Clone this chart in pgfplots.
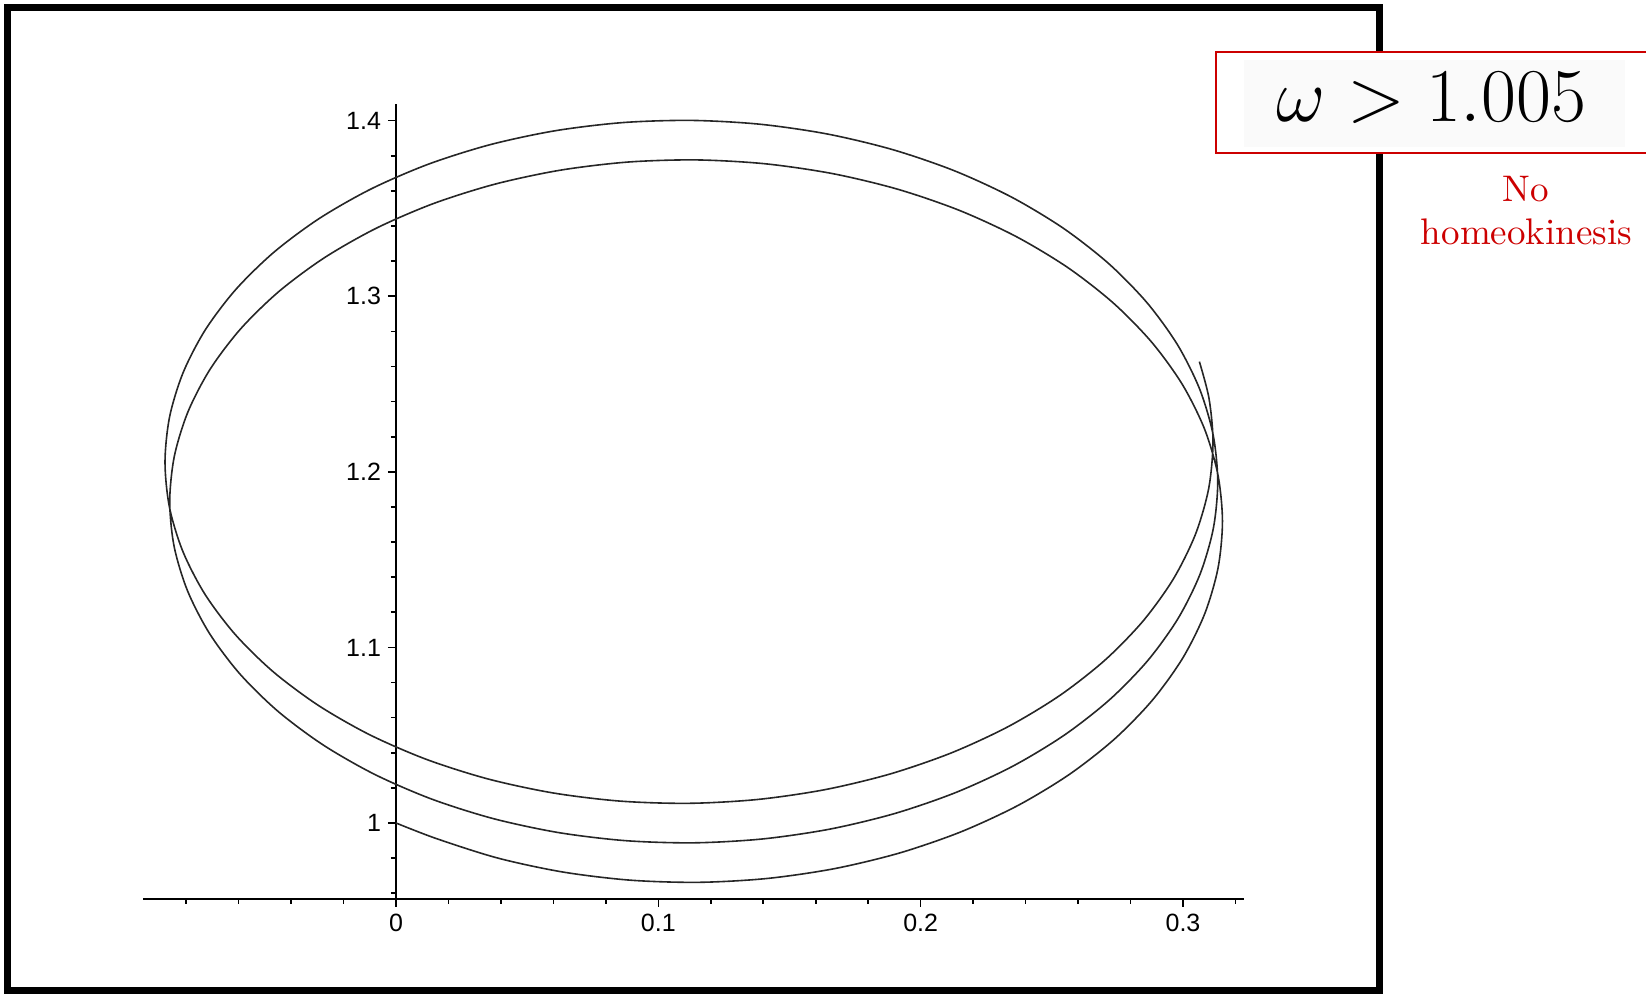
\documentclass[border=0pt]{standalone}
\usepackage{fontspec}
\usepackage{pgfplots}
\pgfplotsset{compat=1.18}
\newfontfamily\tickfont{Liberation Sans}
\newfontfamily\lmten{lmroman10-regular.otf}
\definecolor{boxred}{RGB}{204,0,0}
\begin{document}
\begin{tikzpicture}[x=0.5pt,y=0.5pt]
\path[use as bounding box] (0,0) rectangle (1646,995);
\draw[line width=3.5pt] (7.5,987) rectangle (1379,4);
\begin{axis}[
  at={(71.5pt,48pt)}, anchor=south west,
  scale only axis, width=550.5pt, height=397.5pt,
  xmin=-0.09644, xmax=0.32326, ymin=0.95671, ymax=1.4095,
  axis x line=bottom, axis y line=center,
  axis line style={-, line width=1pt, black},
  xtick={0,0.1,0.2,0.3}, ytick={1,1.1,1.2,1.3,1.4},
  minor xtick={-0.08,-0.06,-0.04,-0.02,0.02,0.04,0.06,0.08,0.12,0.14,0.16,0.18,0.22,0.24,0.26,0.28,0.32},
  minor ytick={0.96,0.98,1.02,1.04,1.06,1.08,1.12,1.14,1.16,1.18,1.22,1.24,1.26,1.28,1.32,1.34,1.36,1.38},
  tick align=outside,
  major tick length=4pt, minor tick length=2.5pt,
  tick style={line width=0.8pt, black},
  every tick label/.append style={font=\tickfont\fontsize{12.5}{14}\selectfont},
  /pgf/number format/assume math mode=true,
  /pgf/number format/fixed, /pgf/number format/precision=2,
  clip=false,
]
\addplot[smooth, tension=0.5, line width=0.8pt, black!85] table {
x y
0.00000 1.00000
0.01535 0.99114
0.03880 0.98002
0.06357 0.97208
0.08921 0.96744
0.11530 0.96620
0.14139 0.96838
0.16704 0.97396
0.19180 0.98284
0.21525 0.99489
0.23698 1.00989
0.25664 1.02762
0.27387 1.04777
0.28837 1.07000
0.29992 1.09395
0.30830 1.11920
0.31338 1.14534
0.31505 1.17193
0.31330 1.19851
0.30815 1.22465
0.29970 1.24990
0.28807 1.27385
0.27349 1.29608
0.25619 1.31623
0.23646 1.33396
0.21465 1.34897
0.19112 1.36101
0.16629 1.36989
0.14057 1.37547
0.11440 1.37765
0.08823 1.37641
0.06252 1.37177
0.03768 1.36383
0.01415 1.35272
-0.00766 1.33864
-0.02738 1.32185
-0.04469 1.30264
-0.05927 1.28135
-0.07090 1.25834
-0.07934 1.23403
-0.08450 1.20883
-0.08625 1.18318
-0.08458 1.15752
-0.07949 1.13232
-0.07112 1.10801
-0.05957 1.08500
-0.04507 1.06371
-0.02783 1.04450
-0.00818 1.02771
0.01355 1.01364
0.03700 1.00252
0.06177 0.99458
0.08741 0.98994
0.11350 0.98870
0.13959 0.99088
0.16524 0.99646
0.19000 1.00534
0.21345 1.01739
0.23518 1.03239
0.25484 1.05012
0.27207 1.07027
0.28657 1.09250
0.29812 1.11645
0.30650 1.14170
0.31158 1.16784
0.31325 1.19443
0.31150 1.22101
0.30635 1.24715
0.29790 1.27240
0.28627 1.29635
0.27169 1.31858
0.25439 1.33873
0.23466 1.35646
0.21285 1.37147
0.18932 1.38351
0.16449 1.39239
0.13877 1.39797
0.11260 1.40015
0.08643 1.39891
0.06072 1.39427
0.03588 1.38633
0.01235 1.37522
-0.00946 1.36114
-0.02918 1.34435
-0.04649 1.32514
-0.06107 1.30385
-0.07270 1.28084
-0.08114 1.25653
-0.08630 1.23133
-0.08805 1.20568
-0.08638 1.18002
-0.08129 1.15482
-0.07292 1.13051
-0.06137 1.10750
-0.04687 1.08621
-0.02963 1.06700
-0.00998 1.05021
0.01175 1.03614
0.03520 1.02502
0.05997 1.01708
0.08561 1.01244
0.11170 1.01120
0.13779 1.01338
0.16344 1.01896
0.18820 1.02784
0.21165 1.03989
0.23338 1.05489
0.25304 1.07262
0.27027 1.09277
0.28477 1.11500
0.29632 1.13895
0.30470 1.16420
0.30978 1.19034
0.31145 1.21693
0.30993 1.24175
0.30625 1.26276
};
\end{axis}
\draw[boxred, line width=1pt, fill=white] (1216,842.3) rectangle (1680,943.3);
\fill[black!2] (1244,848) rectangle (1625,935);
\node[anchor=base, inner sep=0pt, scale=1.527] at (1431.5,873.3) {\Huge$\omega > 1.005$};
\node[anchor=base, inner sep=0pt, text=boxred] at (1525.5,793.3) {\lmten\fontsize{18.5}{22}\selectfont No};
\node[anchor=base, inner sep=0pt, text=boxred] at (1526.5,750) {\lmten\fontsize{18.5}{22}\selectfont homeokinesis};
\end{tikzpicture}
\end{document}
